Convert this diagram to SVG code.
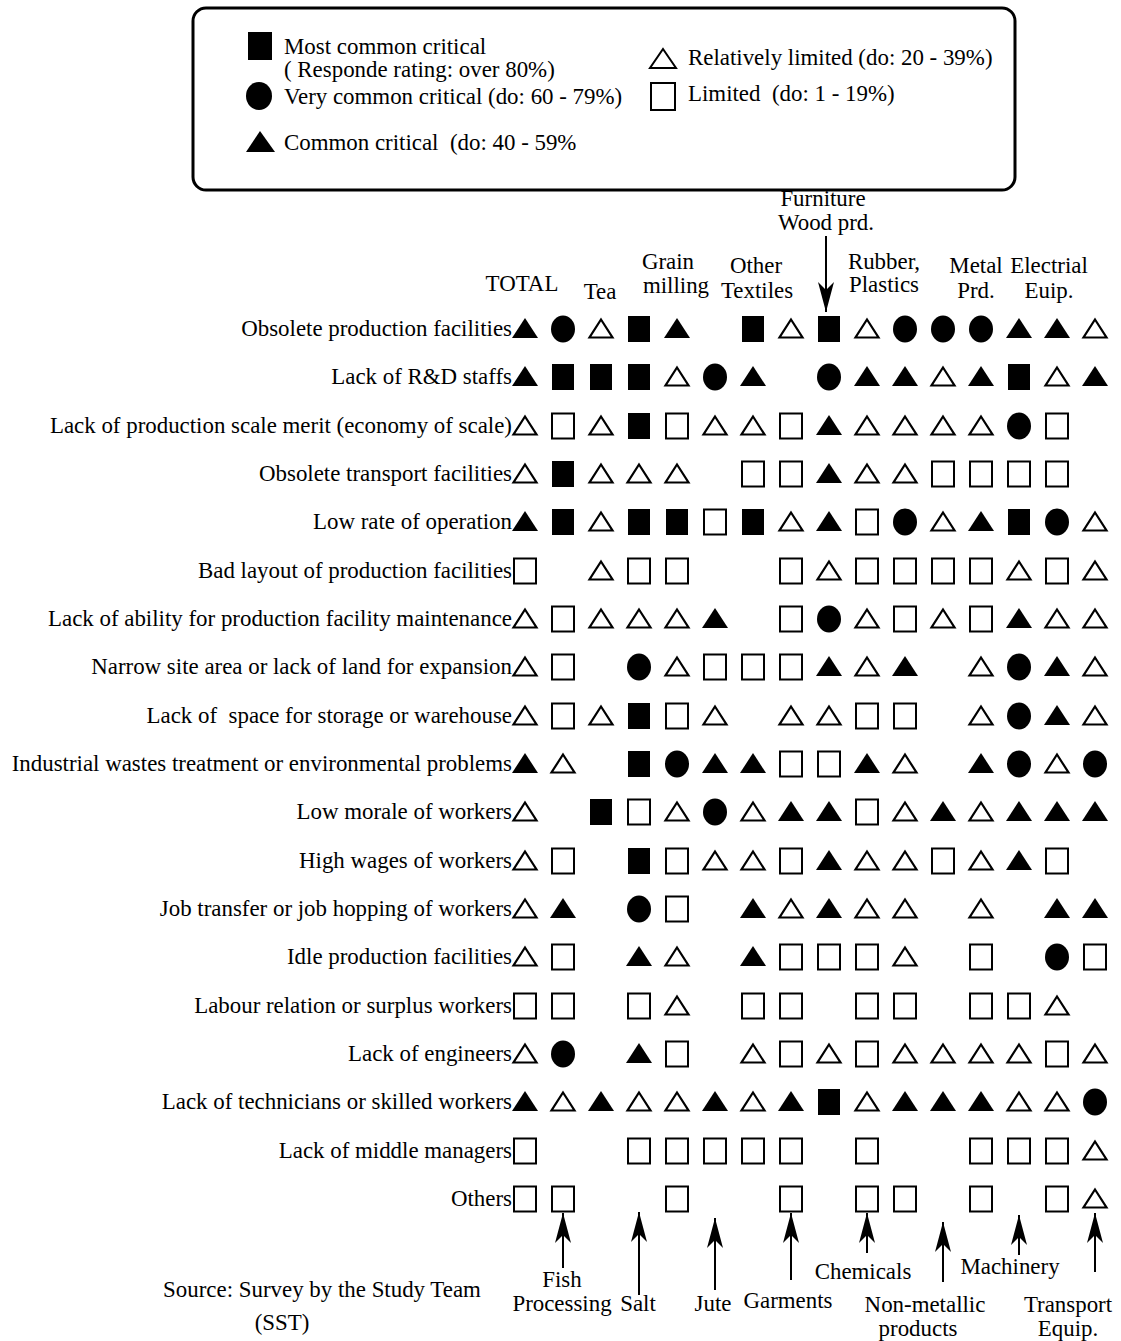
<svg xmlns="http://www.w3.org/2000/svg" xmlns:xlink="http://www.w3.org/1999/xlink" width="1121" height="1341" viewBox="0 0 1121 1341">
<style>
text{font-family:"Liberation Serif","Times New Roman",serif;font-size:22.9px;fill:#000;white-space:pre}
.lbl{text-anchor:end}
.c{text-anchor:middle}
.ln{stroke:#000;stroke-width:2;fill:none}
</style>
<defs>
<g id="S"><rect x="-11" y="-13" width="22" height="26" fill="#000"/></g>
<g id="s"><rect x="-11" y="-12.5" width="22" height="25" fill="#fff" stroke="#000" stroke-width="2"/></g>
<g id="C"><ellipse cx="0" cy="0" rx="12" ry="13.5" fill="#000"/></g>
<g id="T"><polygon points="0,-11 13,9 -13,9" fill="#000"/></g>
<g id="t"><polygon points="0,-9.5 11.5,8.5 -11.5,8.5" fill="#fff" stroke="#000" stroke-width="2.2"/></g>
<marker id="ah" viewBox="0 0 30 16" refX="30" refY="8" markerWidth="30" markerHeight="16" markerUnits="userSpaceOnUse" orient="auto">
<path d="M0,0 L30,8 L0,16 L8,8 Z" fill="#000"/>
</marker>
</defs>
<rect width="1121" height="1341" fill="#fff"/>

<g id="legend">
<rect x="193" y="8" width="822" height="182" rx="13" fill="none" stroke="#000" stroke-width="3"/>
<rect x="248" y="32" width="24" height="28" fill="#000"/>
<text x="284" y="54">Most common critical</text>
<text x="284" y="77">( Responde rating: over 80%)</text>
<ellipse cx="259" cy="96" rx="13" ry="14" fill="#000"/>
<text x="284" y="104">Very common critical (do: 60 - 79%)</text>
<polygon points="260,131 275,152 246,152" fill="#000"/>
<text x="284" y="150">Common critical  (do: 40 - 59%</text>
<polygon points="663,49 676,68 650,68" fill="#fff" stroke="#000" stroke-width="2"/>
<text x="688" y="65">Relatively limited (do: 20 - 39%)</text>
<rect x="651" y="83" width="24" height="27" fill="#fff" stroke="#000" stroke-width="2"/>
<text x="688" y="101">Limited  (do: 1 - 19%)</text>
</g>

<g id="headers">
<text class="c" x="522" y="291">TOTAL</text>
<text class="c" x="600" y="299">Tea</text>
<text class="c" x="668" y="269">Grain</text>
<text class="c" x="676" y="293">milling</text>
<text class="c" x="756" y="273">Other</text>
<text class="c" x="757" y="298">Textiles</text>
<text class="c" x="823" y="206">Furniture</text>
<text class="c" x="826" y="230">Wood prd.</text>
<text class="c" x="884" y="269">Rubber,</text>
<text class="c" x="884" y="292">Plastics</text>
<text class="c" x="976" y="273">Metal</text>
<text class="c" x="976" y="298">Prd.</text>
<text class="c" x="1049" y="273">Electrial</text>
<text class="c" x="1049" y="298">Euip.</text>
</g>

<g id="row-labels">
<text class="lbl" x="512" y="336">Obsolete production facilities</text>
<text class="lbl" x="512" y="384">Lack of R&amp;D staffs</text>
<text class="lbl" x="512" y="433">Lack of production scale merit (economy of scale)</text>
<text class="lbl" x="512" y="481">Obsolete transport facilities</text>
<text class="lbl" x="512" y="529">Low rate of operation</text>
<text class="lbl" x="512" y="578">Bad layout of production facilities</text>
<text class="lbl" x="512" y="626">Lack of ability for production facility maintenance</text>
<text class="lbl" x="512" y="674">Narrow site area or lack of land for expansion</text>
<text class="lbl" x="512" y="723">Lack of  space for storage or warehouse</text>
<text class="lbl" x="512" y="771">Industrial wastes treatment or environmental problems</text>
<text class="lbl" x="512" y="819">Low morale of workers</text>
<text class="lbl" x="512" y="868">High wages of workers</text>
<text class="lbl" x="512" y="916">Job transfer or job hopping of workers</text>
<text class="lbl" x="512" y="964">Idle production facilities</text>
<text class="lbl" x="512" y="1013">Labour relation or surplus workers</text>
<text class="lbl" x="512" y="1061">Lack of engineers</text>
<text class="lbl" x="512" y="1109">Lack of technicians or skilled workers</text>
<text class="lbl" x="512" y="1158">Lack of middle managers</text>
<text class="lbl" x="512" y="1206">Others</text>
</g>

<g id="r01" transform="translate(0,329)">
<use href="#T" x="525"/><use href="#C" x="563"/><use href="#t" x="601"/><use href="#S" x="639"/><use href="#T" x="677"/><use href="#S" x="753"/><use href="#t" x="791"/><use href="#S" x="829"/><use href="#t" x="867"/><use href="#C" x="905"/><use href="#C" x="943"/><use href="#C" x="981"/><use href="#T" x="1019"/><use href="#T" x="1057"/><use href="#t" x="1095"/>
</g>
<g id="r02" transform="translate(0,377)">
<use href="#T" x="525"/><use href="#S" x="563"/><use href="#S" x="601"/><use href="#S" x="639"/><use href="#t" x="677"/><use href="#C" x="715"/><use href="#T" x="753"/><use href="#C" x="829"/><use href="#T" x="867"/><use href="#T" x="905"/><use href="#t" x="943"/><use href="#T" x="981"/><use href="#S" x="1019"/><use href="#t" x="1057"/><use href="#T" x="1095"/>
</g>
<g id="r03" transform="translate(0,426)">
<use href="#t" x="525"/><use href="#s" x="563"/><use href="#t" x="601"/><use href="#S" x="639"/><use href="#s" x="677"/><use href="#t" x="715"/><use href="#t" x="753"/><use href="#s" x="791"/><use href="#T" x="829"/><use href="#t" x="867"/><use href="#t" x="905"/><use href="#t" x="943"/><use href="#t" x="981"/><use href="#C" x="1019"/><use href="#s" x="1057"/>
</g>
<g id="r04" transform="translate(0,474)">
<use href="#t" x="525"/><use href="#S" x="563"/><use href="#t" x="601"/><use href="#t" x="639"/><use href="#t" x="677"/><use href="#s" x="753"/><use href="#s" x="791"/><use href="#T" x="829"/><use href="#t" x="867"/><use href="#t" x="905"/><use href="#s" x="943"/><use href="#s" x="981"/><use href="#s" x="1019"/><use href="#s" x="1057"/>
</g>
<g id="r05" transform="translate(0,522)">
<use href="#T" x="525"/><use href="#S" x="563"/><use href="#t" x="601"/><use href="#S" x="639"/><use href="#S" x="677"/><use href="#s" x="715"/><use href="#S" x="753"/><use href="#t" x="791"/><use href="#T" x="829"/><use href="#s" x="867"/><use href="#C" x="905"/><use href="#t" x="943"/><use href="#T" x="981"/><use href="#S" x="1019"/><use href="#C" x="1057"/><use href="#t" x="1095"/>
</g>
<g id="r06" transform="translate(0,571)">
<use href="#s" x="525"/><use href="#t" x="601"/><use href="#s" x="639"/><use href="#s" x="677"/><use href="#s" x="791"/><use href="#t" x="829"/><use href="#s" x="867"/><use href="#s" x="905"/><use href="#s" x="943"/><use href="#s" x="981"/><use href="#t" x="1019"/><use href="#s" x="1057"/><use href="#t" x="1095"/>
</g>
<g id="r07" transform="translate(0,619)">
<use href="#t" x="525"/><use href="#s" x="563"/><use href="#t" x="601"/><use href="#t" x="639"/><use href="#t" x="677"/><use href="#T" x="715"/><use href="#s" x="791"/><use href="#C" x="829"/><use href="#t" x="867"/><use href="#s" x="905"/><use href="#t" x="943"/><use href="#s" x="981"/><use href="#T" x="1019"/><use href="#t" x="1057"/><use href="#t" x="1095"/>
</g>
<g id="r08" transform="translate(0,667)">
<use href="#t" x="525"/><use href="#s" x="563"/><use href="#C" x="639"/><use href="#t" x="677"/><use href="#s" x="715"/><use href="#s" x="753"/><use href="#s" x="791"/><use href="#T" x="829"/><use href="#t" x="867"/><use href="#T" x="905"/><use href="#t" x="981"/><use href="#C" x="1019"/><use href="#T" x="1057"/><use href="#t" x="1095"/>
</g>
<g id="r09" transform="translate(0,716)">
<use href="#t" x="525"/><use href="#s" x="563"/><use href="#t" x="601"/><use href="#S" x="639"/><use href="#s" x="677"/><use href="#t" x="715"/><use href="#t" x="791"/><use href="#t" x="829"/><use href="#s" x="867"/><use href="#s" x="905"/><use href="#t" x="981"/><use href="#C" x="1019"/><use href="#T" x="1057"/><use href="#t" x="1095"/>
</g>
<g id="r10" transform="translate(0,764)">
<use href="#T" x="525"/><use href="#t" x="563"/><use href="#S" x="639"/><use href="#C" x="677"/><use href="#T" x="715"/><use href="#T" x="753"/><use href="#s" x="791"/><use href="#s" x="829"/><use href="#T" x="867"/><use href="#t" x="905"/><use href="#T" x="981"/><use href="#C" x="1019"/><use href="#t" x="1057"/><use href="#C" x="1095"/>
</g>
<g id="r11" transform="translate(0,812)">
<use href="#t" x="525"/><use href="#S" x="601"/><use href="#s" x="639"/><use href="#t" x="677"/><use href="#C" x="715"/><use href="#t" x="753"/><use href="#T" x="791"/><use href="#T" x="829"/><use href="#s" x="867"/><use href="#t" x="905"/><use href="#T" x="943"/><use href="#t" x="981"/><use href="#T" x="1019"/><use href="#T" x="1057"/><use href="#T" x="1095"/>
</g>
<g id="r12" transform="translate(0,861)">
<use href="#t" x="525"/><use href="#s" x="563"/><use href="#S" x="639"/><use href="#s" x="677"/><use href="#t" x="715"/><use href="#t" x="753"/><use href="#s" x="791"/><use href="#T" x="829"/><use href="#t" x="867"/><use href="#t" x="905"/><use href="#s" x="943"/><use href="#t" x="981"/><use href="#T" x="1019"/><use href="#s" x="1057"/>
</g>
<g id="r13" transform="translate(0,909)">
<use href="#t" x="525"/><use href="#T" x="563"/><use href="#C" x="639"/><use href="#s" x="677"/><use href="#T" x="753"/><use href="#t" x="791"/><use href="#T" x="829"/><use href="#t" x="867"/><use href="#t" x="905"/><use href="#t" x="981"/><use href="#T" x="1057"/><use href="#T" x="1095"/>
</g>
<g id="r14" transform="translate(0,957)">
<use href="#t" x="525"/><use href="#s" x="563"/><use href="#T" x="639"/><use href="#t" x="677"/><use href="#T" x="753"/><use href="#s" x="791"/><use href="#s" x="829"/><use href="#s" x="867"/><use href="#t" x="905"/><use href="#s" x="981"/><use href="#C" x="1057"/><use href="#s" x="1095"/>
</g>
<g id="r15" transform="translate(0,1006)">
<use href="#s" x="525"/><use href="#s" x="563"/><use href="#s" x="639"/><use href="#t" x="677"/><use href="#s" x="753"/><use href="#s" x="791"/><use href="#s" x="867"/><use href="#s" x="905"/><use href="#s" x="981"/><use href="#s" x="1019"/><use href="#t" x="1057"/>
</g>
<g id="r16" transform="translate(0,1054)">
<use href="#t" x="525"/><use href="#C" x="563"/><use href="#T" x="639"/><use href="#s" x="677"/><use href="#t" x="753"/><use href="#s" x="791"/><use href="#t" x="829"/><use href="#s" x="867"/><use href="#t" x="905"/><use href="#t" x="943"/><use href="#t" x="981"/><use href="#t" x="1019"/><use href="#s" x="1057"/><use href="#t" x="1095"/>
</g>
<g id="r17" transform="translate(0,1102)">
<use href="#T" x="525"/><use href="#t" x="563"/><use href="#T" x="601"/><use href="#t" x="639"/><use href="#t" x="677"/><use href="#T" x="715"/><use href="#t" x="753"/><use href="#T" x="791"/><use href="#S" x="829"/><use href="#t" x="867"/><use href="#T" x="905"/><use href="#T" x="943"/><use href="#T" x="981"/><use href="#t" x="1019"/><use href="#t" x="1057"/><use href="#C" x="1095"/>
</g>
<g id="r18" transform="translate(0,1151)">
<use href="#s" x="525"/><use href="#s" x="639"/><use href="#s" x="677"/><use href="#s" x="715"/><use href="#s" x="753"/><use href="#s" x="791"/><use href="#s" x="867"/><use href="#s" x="981"/><use href="#s" x="1019"/><use href="#s" x="1057"/><use href="#t" x="1095"/>
</g>
<g id="r19" transform="translate(0,1199)">
<use href="#s" x="525"/><use href="#s" x="563"/><use href="#s" x="677"/><use href="#s" x="791"/><use href="#s" x="867"/><use href="#s" x="905"/><use href="#s" x="981"/><use href="#s" x="1057"/><use href="#t" x="1095"/>
</g>

<g id="connectors">
<line class="ln" x1="826" y1="236" x2="826" y2="312" marker-end="url(#ah)"/>
<line class="ln" x1="563" y1="1268" x2="563" y2="1213" marker-end="url(#ah)"/>
<line class="ln" x1="639" y1="1295" x2="639" y2="1212" marker-end="url(#ah)"/>
<line class="ln" x1="715" y1="1290" x2="715" y2="1218" marker-end="url(#ah)"/>
<line class="ln" x1="791" y1="1280" x2="791" y2="1213" marker-end="url(#ah)"/>
<line class="ln" x1="867" y1="1253" x2="867" y2="1213" marker-end="url(#ah)"/>
<line class="ln" x1="943" y1="1282" x2="943" y2="1222" marker-end="url(#ah)"/>
<line class="ln" x1="1019" y1="1255" x2="1019" y2="1215" marker-end="url(#ah)"/>
<line class="ln" x1="1095" y1="1272" x2="1095" y2="1213" marker-end="url(#ah)"/>
</g>

<g id="bottom-labels">
<text class="c" x="562" y="1287">Fish</text>
<text class="c" x="562" y="1311">Processing</text>
<text class="c" x="638" y="1311">Salt</text>
<text class="c" x="713" y="1311">Jute</text>
<text class="c" x="788" y="1308">Garments</text>
<text class="c" x="863" y="1279">Chemicals</text>
<text class="c" x="925" y="1312">Non-metallic</text>
<text class="c" x="918" y="1336">products</text>
<text class="c" x="1010" y="1274">Machinery</text>
<text class="c" x="1068" y="1312">Transport</text>
<text class="c" x="1068" y="1336">Equip.</text>
</g>

<g id="source">
<text class="c" x="322" y="1297">Source: Survey by the Study Team</text>
<text class="c" x="282" y="1330">(SST)</text>
</g>
</svg>
